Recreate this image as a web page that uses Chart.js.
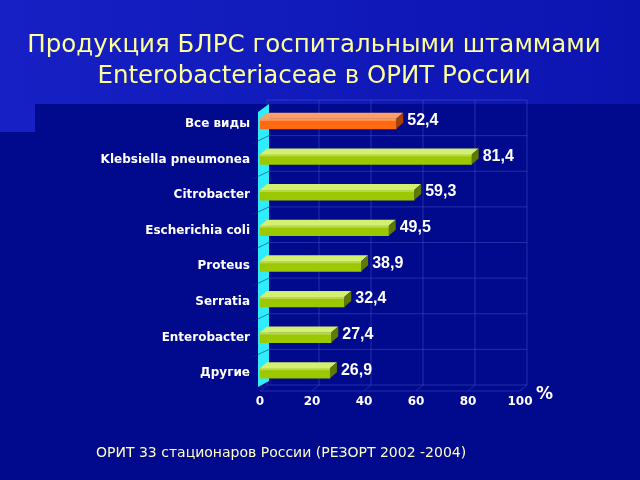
<html>
  <head>
    <script src="https://cdn.jsdelivr.net/npm/chart.js@4/dist/chart.umd.min.js"></script>
    <style>
      body,
      html {
        margin: 0;
        padding: 0;
        width: 640px;
        height: 480px;
        overflow: hidden;
        background: #010a8c;
        font-family: "DejaVu Sans", Arial, sans-serif;
      }
      .topband {
        position: absolute;
        left: 0;
        top: 0;
        width: 640px;
        height: 104px;
        background: linear-gradient(90deg, #1620c4, #0c14b0);
      }
      .leftblock {
        position: absolute;
        left: 0;
        top: 104px;
        width: 35px;
        height: 28px;
        background: #1620c4;
      }
      #chartTitle {
        position: absolute;
        left: 0;
        top: 28px;
        width: 628px;
        text-align: center;
        color: #ffff99;
        font-size: 24.5px;
        line-height: 31px;
      }
      #note {
        position: absolute;
        left: 96px;
        top: 444px;
        color: #ffffcc;
        font-size: 14px;
      }
      #pct {
        position: absolute;
        left: 536px;
        top: 383px;
        color: #fff;
        font-size: 17px;
        font-weight: bold;
      }
      #esblChart {
        position: absolute;
        left: 0;
        top: 0;
      }
    </style>
  </head>
  <body>
    <div class="topband"></div>
    <div class="leftblock"></div>
    <canvas id="esblChart" width="640" height="480"></canvas>
    <div id="chartTitle">Продукция БЛРС госпитальными штаммами<br />Enterobacteriaceae в ОРИТ России</div>
    <div id="pct">%</div>
    <div id="note">ОРИТ 33 стационаров России (РЕЗОРТ 2002 -2004)</div>

    <script>
      const species = [
        "Все виды",
        "Klebsiella pneumonea",
        "Citrobacter",
        "Escherichia coli",
        "Proteus",
        "Serratia",
        "Enterobacter",
        "Другие",
      ];
      const esblPercent = [52.4, 81.4, 59.3, 49.5, 38.9, 32.4, 27.4, 26.9];
      const xTicks = [0, 20, 40, 60, 80, 100];

      // 3d depth of bars and walls
      const DX = 7;
      const DY = 6;

      const faces = {
        orange: { front: "#ff6a10", top: "#ffa060", side: "#a84000" },
        green: { front: "#9cc800", top: "#d4f070", side: "#5e7a00" },
      };
      function faceFor(i) {
        return i === 0 ? faces.orange : faces.green;
      }

      // back wall grid, floor and the cyan left wall
      const wallPlugin = {
        id: "wall3d",
        beforeDatasetsDraw(chart) {
          const c = chart.ctx;
          const a = chart.chartArea;
          const xs = chart.scales.x;
          c.save();
          c.strokeStyle = "rgba(80,100,210,0.4)";
          c.lineWidth = 1;
          xTicks.forEach(function (t) {
            const px = xs.getPixelForValue(t);
            c.beginPath();
            c.moveTo(px + DX, a.top - DY);
            c.lineTo(px + DX, a.bottom - DY);
            c.lineTo(px, a.bottom);
            c.stroke();
          });
          for (let i = 0; i <= species.length; i++) {
            const py = a.top + (i * (a.bottom - a.top)) / species.length;
            c.beginPath();
            c.moveTo(a.left + DX, py - DY);
            c.lineTo(a.right + DX, py - DY);
            c.stroke();
          }
          c.beginPath();
          c.moveTo(a.left, a.bottom);
          c.lineTo(a.right, a.bottom);
          c.stroke();
          // cyan wall
          const x0 = a.left - 2;
          c.fillStyle = "#30ecff";
          c.beginPath();
          c.moveTo(x0, a.bottom - 4);
          c.lineTo(x0, a.top + 6);
          c.lineTo(x0 + DX + 4, a.top - DY + 4);
          c.lineTo(x0 + DX + 4, a.bottom - DY - 4);
          c.closePath();
          c.fill();
          c.strokeStyle = "rgba(0,60,120,0.6)";
          for (let i = 1; i < species.length; i++) {
            const py = a.top + (i * (a.bottom - a.top)) / species.length;
            c.beginPath();
            c.moveTo(x0 - 6, py + 2);
            c.lineTo(x0 + DX + 4, py - DY);
            c.stroke();
          }
          c.restore();
        },
        afterDatasetsDraw(chart) {
          const c = chart.ctx;
          const meta = chart.getDatasetMeta(0);
          c.save();
          meta.data.forEach(function (bar, i) {
            const f = faceFor(i);
            const t = bar.y - bar.height / 2;
            const b = bar.y + bar.height / 2;
            c.fillStyle = f.top;
            c.beginPath();
            c.moveTo(bar.base, t);
            c.lineTo(bar.base + DX, t - DY);
            c.lineTo(bar.x + DX, t - DY);
            c.lineTo(bar.x, t);
            c.closePath();
            c.fill();
            c.fillStyle = f.side;
            c.beginPath();
            c.moveTo(bar.x, t);
            c.lineTo(bar.x + DX, t - DY);
            c.lineTo(bar.x + DX, b - DY);
            c.lineTo(bar.x, b);
            c.closePath();
            c.fill();
            // highlight on the front face
            c.fillStyle = "rgba(255,255,255,0.3)";
            c.fillRect(bar.base, t, bar.x - bar.base, 2);
            c.fillStyle = "#ffffff";
            c.font = "bold 16px 'Liberation Sans', Arial, sans-serif";
            c.textBaseline = "middle";
            c.textAlign = "left";
            c.fillText(
              esblPercent[i].toFixed(1).replace(".", ","),
              bar.x + DX + 4,
              bar.y - 3
            );
          });
          c.restore();
        },
      };

      const ctx = document.getElementById("esblChart").getContext("2d");
      var ESBLChart = new Chart(ctx, {
        type: "bar",
        data: {
          labels: species,
          datasets: [
            {
              data: esblPercent,
              backgroundColor: function (context) {
                return faceFor(context.dataIndex).front;
              },
              borderWidth: 0,
              barThickness: 10,
            },
          ],
        },
        options: {
          indexAxis: "y",
          responsive: false,
          animation: false,
          layout: {
            padding: { left: 0, top: 106, right: 120, bottom: 69 },
          },
          plugins: {
            legend: { display: false },
            tooltip: { enabled: false },
          },
          scales: {
            x: {
              min: 0,
              max: 100,
              afterBuildTicks: function (axis) {
                axis.ticks = xTicks.map(function (v) {
                  return { value: v };
                });
              },
              afterFit: function (axis) {
                axis.height = 20;
              },
              grid: { display: false, drawTicks: false },
              border: { display: false },
              ticks: {
                color: "#ffffff",
                padding: 4,
                font: { family: "DejaVu Sans", size: 12, weight: "bold" },
              },
            },
            y: {
              afterFit: function (axis) {
                axis.width = 260;
              },
              grid: { display: false, drawTicks: false },
              border: { display: false },
              ticks: {
                color: "#ffffff",
                padding: 10,
                font: { family: "DejaVu Sans", size: 12, weight: "bold" },
              },
            },
          },
        },
        plugins: [wallPlugin],
      });
    </script>
  </body>
</html>
